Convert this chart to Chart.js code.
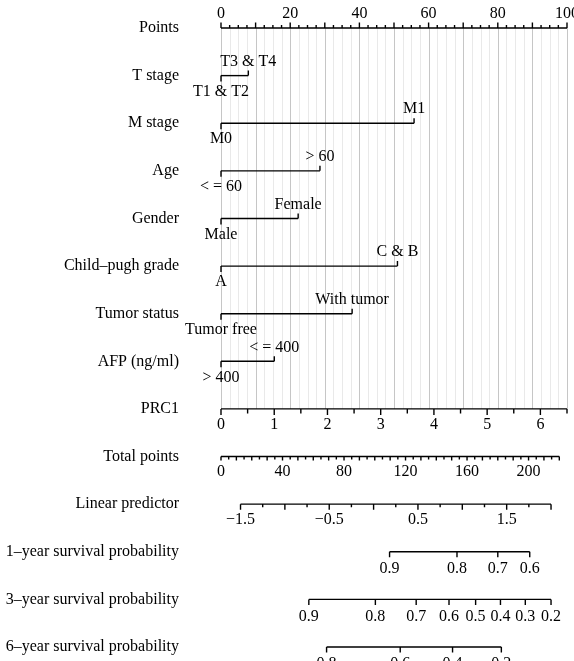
<!DOCTYPE html>
<html>
<head>
<meta charset="utf-8">
<script src="https://cdn.jsdelivr.net/npm/chart.js@4.4.1/dist/chart.umd.min.js"></script>
<style>
  html, body { margin: 0; padding: 0; background: #fff; }
  #wrap { width: 574px; height: 661px; }
</style>
</head>
<body>
<div id="wrap"><canvas id="nomogram"></canvas></div>
<script>
// row names, top to bottom
let rowLabels = ['Points', 'T stage', 'M stage', 'Age', 'Gender', 'Child–pugh grade', 'Tumor status',
    'AFP (ng/ml)', 'PRC1', 'Total points', 'Linear predictor', '1–year survival probability',
    '3–year survival probability', '6–year survival probability'];

// two-level predictors: first level sits at 0 points
let factorNames = ['T stage', 'M stage', 'Age', 'Gender', 'Child–pugh grade', 'Tumor status', 'AFP (ng/ml)'];
let lowLevels = ['T1 & T2', 'M0', '< = 60', 'Male', 'A', 'Tumor free', '> 400'];
let highLevels = ['T3 & T4', 'M1', '> 60', 'Female', 'C & B', 'With tumor', '< = 400'];
let highPoints = [7.9, 55.8, 28.6, 22.3, 51.0, 37.9, 15.4];

// points scale
let pointsLabels = [0, 20, 40, 60, 80, 100];

// PRC1 (continuous)
let prc1Labels = [0, 1, 2, 3, 4, 5, 6];
let prc1Max = 6.5;   // PRC1 value at 100 points

// total points
let totalLabels = [0, 40, 80, 120, 160, 200];
let totalMax = 225;  // total points at the right edge

// linear predictor
let lpLabels = [-1.5, -0.5, 0.5, 1.5];
let lpFrom = -1.5, lpTo = 2.0;
let lpAtZero = -1.72, lpAtMax = 2.18;  // LP at 0 and at totalMax total points

// survival probabilities and the LP where each one sits
let surv1Probs = [0.9, 0.8, 0.7, 0.6];
let surv1Lp = [0.18, 0.94, 1.40, 1.76];
let surv3Probs = [0.9, 0.8, 0.7, 0.6, 0.5, 0.4, 0.3, 0.2];
let surv3Lp = [-0.73, 0.02, 0.48, 0.85, 1.15, 1.43, 1.71, 2.0];
let surv6Probs = [0.8, 0.6, 0.4, 0.2];
let surv6Lp = [-0.53, 0.30, 0.89, 1.44];

const FONT = '16px "Liberation Serif", "Times New Roman", serif';

// value -> points converters
const fromPrc1 = v => v / prc1Max * 100;
const fromTotal = v => v / totalMax * 100;
const fromLp = v => (v - lpAtZero) / (lpAtMax - lpAtZero) * 100;
const same = v => v;

function fmt(v) {
    return v < 0 ? '\u2212' + Math.abs(v) : String(v);
}

const nomogramPlugin = {
    id: 'nomogram',
    beforeDatasetsDraw(chart) {
        const { ctx, scales: { x, y } } = chart;
        const top = y.getPixelForValue(0), bottom = y.getPixelForValue(8);
        ctx.save();
        ctx.lineWidth = 1;
        for (let v = 0; v <= 100; v += 2.5) {
            const xp = Math.round(x.getPixelForValue(v)) + 0.5;
            ctx.strokeStyle = v % 10 === 0 ? '#c6c6c6' : '#e9e9e9';
            ctx.beginPath();
            ctx.moveTo(xp, top);
            ctx.lineTo(xp, bottom);
            ctx.stroke();
        }
        ctx.restore();
    },
    afterDatasetsDraw(chart) {
        const { ctx, scales: { x, y } } = chart;
        const X = p => x.getPixelForValue(p);
        ctx.save();
        ctx.strokeStyle = '#000';
        ctx.fillStyle = '#000';
        ctx.lineWidth = 1.4;
        ctx.font = FONT;
        ctx.textAlign = 'center';
        ctx.textBaseline = 'middle';

        function axis(row, conv, from, to, ticks, labels, labelDy) {
            const yp = y.getPixelForValue(row);
            ctx.beginPath();
            ctx.moveTo(X(conv(from)), yp);
            ctx.lineTo(X(conv(to)), yp);
            ticks.forEach(([v, len]) => {
                const xp = X(conv(v));
                ctx.moveTo(xp, yp);
                ctx.lineTo(xp, yp + len);
            });
            ctx.stroke();
            labels.forEach(([v, t]) => ctx.fillText(t, X(conv(v)), yp + labelDy));
        }

        // Points
        let t = [];
        for (let v = 0; v <= 100; v += 2.5) t.push([v, v % 10 === 0 ? -5.5 : -3]);
        axis(0, same, 0, 100, t, pointsLabels.map(v => [v, String(v)]), -14);

        // two-level predictors: end ticks and level names
        factorNames.forEach((name, i) => {
            const yp = y.getPixelForValue(i + 1);
            ctx.beginPath();
            ctx.moveTo(X(0), yp);
            ctx.lineTo(X(0), yp + 6);
            ctx.moveTo(X(highPoints[i]), yp);
            ctx.lineTo(X(highPoints[i]), yp - 5);
            ctx.stroke();
            ctx.fillText(highLevels[i], X(highPoints[i]), yp - 14);
            ctx.fillText(lowLevels[i], X(0), yp + 16);
        });

        // PRC1
        t = [];
        for (let v = 0; v <= prc1Max; v += 0.5) t.push([v, v % 1 === 0 ? 6 : 4.5]);
        axis(8, fromPrc1, 0, prc1Max, t, prc1Labels.map(v => [v, String(v)]), 16);

        // Total points
        t = [];
        for (let v = 0; v <= 220; v += 5) t.push([v, v % 10 === 0 ? 4 : 3]);
        axis(9, fromTotal, 0, 220, t, totalLabels.map(v => [v, String(v)]), 15);

        // Linear predictor
        t = [];
        for (let v = lpFrom; v <= lpTo + 1e-9; v += 0.25) t.push([v, Math.abs(v * 2 - Math.round(v * 2)) < 1e-6 ? 5.5 : 3]);
        axis(10, fromLp, lpFrom, lpTo, t, lpLabels.map(v => [v, fmt(v)]), 16);

        // survival probabilities
        [[surv1Probs, surv1Lp], [surv3Probs, surv3Lp], [surv6Probs, surv6Lp]].forEach(([probs, lps], k) => {
            axis(11 + k, fromLp, lps[0], lps[lps.length - 1],
                lps.map(v => [v, 5.5]),
                probs.map((p, j) => [lps[j], p.toFixed(1)]), 17);
        });

        ctx.restore();
    }
};

const chart = new Chart(document.getElementById('nomogram'), {
    type: 'scatter',
    data: {
        datasets: factorNames.map((name, i) => ({
            label: name,
            data: [{ x: 0, y: i + 1 }, { x: highPoints[i], y: i + 1 }],
            showLine: true,
            borderColor: '#000',
            borderWidth: 1.4,
            pointRadius: 0
        }))
    },
    options: {
        responsive: true,
        maintainAspectRatio: false,
        animation: false,
        layout: { padding: { left: 0, right: 7, top: 0, bottom: 0 } },
        plugins: { legend: { display: false }, tooltip: { enabled: false } },
        scales: {
            x: { type: 'linear', min: 0, max: 100, display: false },
            y: {
                type: 'linear',
                reverse: true,
                min: -0.588,
                max: 13.294,
                // ticks hidden, their length only pushes the row names left
                grid: { display: false, drawTicks: true, tickLength: 42 },
                border: { display: false },
                afterBuildTicks: s => { s.ticks = rowLabels.map((_, i) => ({ value: i })); },
                afterFit: s => {
                    s.width = 221;
                    s.paddingTop = 0;
                    s.paddingBottom = 0;
                },
                ticks: {
                    autoSkip: false,
                    padding: 0,
                    color: '#000',
                    font: { family: '"Liberation Serif", "Times New Roman", serif', size: 16 },
                    callback: v => rowLabels[v]
                }
            }
        }
    },
    plugins: [nomogramPlugin]
});
</script>
</body>
</html>
